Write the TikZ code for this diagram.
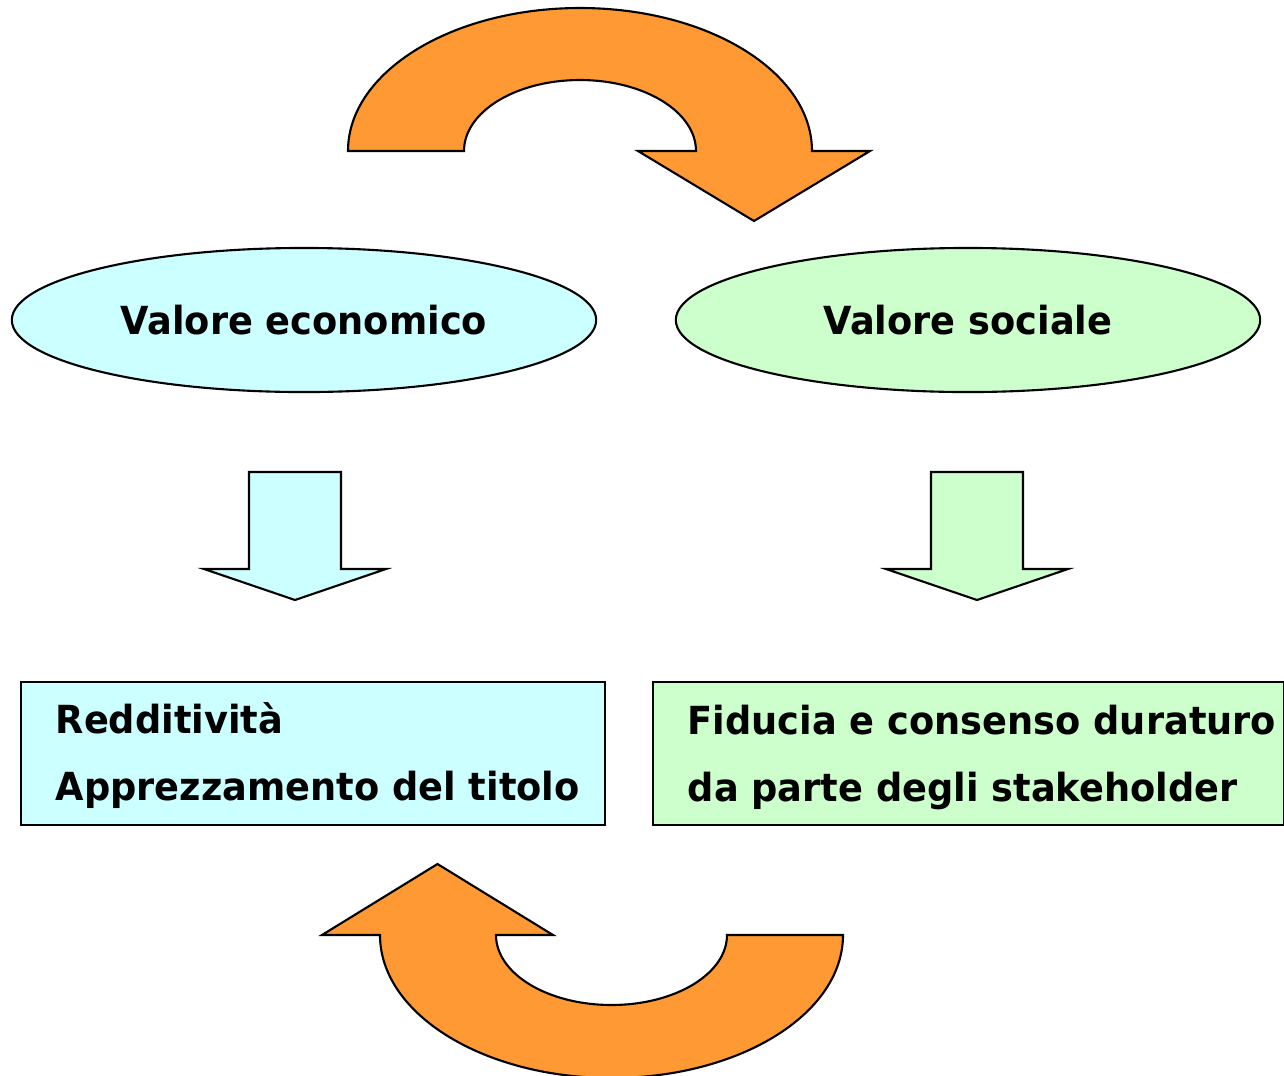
\documentclass[tikz,border=0pt]{standalone}
\usepackage{fontspec}
\setmainfont[FakeStretch=0.95]{DejaVu Sans}
\usetikzlibrary{shapes.geometric}

\definecolor{giro}{HTML}{FF9933}
\definecolor{ciano}{HTML}{CCFFFF}
\definecolor{verde}{HTML}{CCFFCC}

\tikzstyle{valore} = [ellipse, draw=black, line width=0.6pt, minimum width=5.84cm, minimum height=1.44cm, text centered, font=\fontsize{11}{13}\selectfont\bfseries]
\tikzstyle{box} = [rectangle, draw=black, line width=0.6pt, minimum height=1.43cm, anchor=north west]
\tikzstyle{riga} = [anchor=base west, inner sep=0pt, font=\fontsize{11}{13}\selectfont\bfseries]
\tikzstyle{freccia} = [draw=black, line width=0.6pt, line join=miter]

\begin{document}
\begin{tikzpicture}[x=0.01cm, y=-0.01cm]
			\useasboundingbox (0,0) rectangle (1284,1075);
			% curved arrows
			\filldraw [freccia, fill=giro] (348,151) arc[start angle=180, end angle=360, x radius=232, y radius=143] -- (870,151) -- (754,221) -- (638,151) -- (696,151) arc[start angle=0, end angle=-180, x radius=116, y radius=71] -- cycle;
			\filldraw [freccia, fill=giro] (843,935) arc[start angle=0, end angle=180, x radius=231.5, y radius=143] -- (322,935) -- (437.5,864) -- (553,935) -- (496,935) arc[start angle=180, end angle=0, x radius=115.5, y radius=70] -- cycle;

			\node (economico) [valore, fill=ciano] at (304,320) {Valore economico};
			\node (sociale) [valore, fill=verde] at (968,320) {Valore sociale};

			% block arrows
			\filldraw [freccia, fill=ciano] (249,472) -- (341,472) -- (341,569) -- (386,569) -- (295,600) -- (204,569) -- (249,569) -- cycle;
			\filldraw [freccia, fill=verde] (931,472) -- (1023,472) -- (1023,569) -- (1068,569) -- (977,600) -- (886,569) -- (931,569) -- cycle;

			\node (boxEconomico) [box, fill=ciano, minimum width=5.84cm] at (20,681) {};
			\node (boxSociale) [box, fill=verde, minimum width=6.31cm] at (652,681) {};
			\node (redditivita) [riga] at (55,733) {Redditività};
			\node (apprezzamento) [riga] at (55,800) {Apprezzamento del titolo};
			\node (fiducia) [riga] at (687,734) {Fiducia e consenso duraturo};
			\node (stakeholder) [riga] at (687,801) {da parte degli stakeholder};
		\end{tikzpicture}
\end{document}
